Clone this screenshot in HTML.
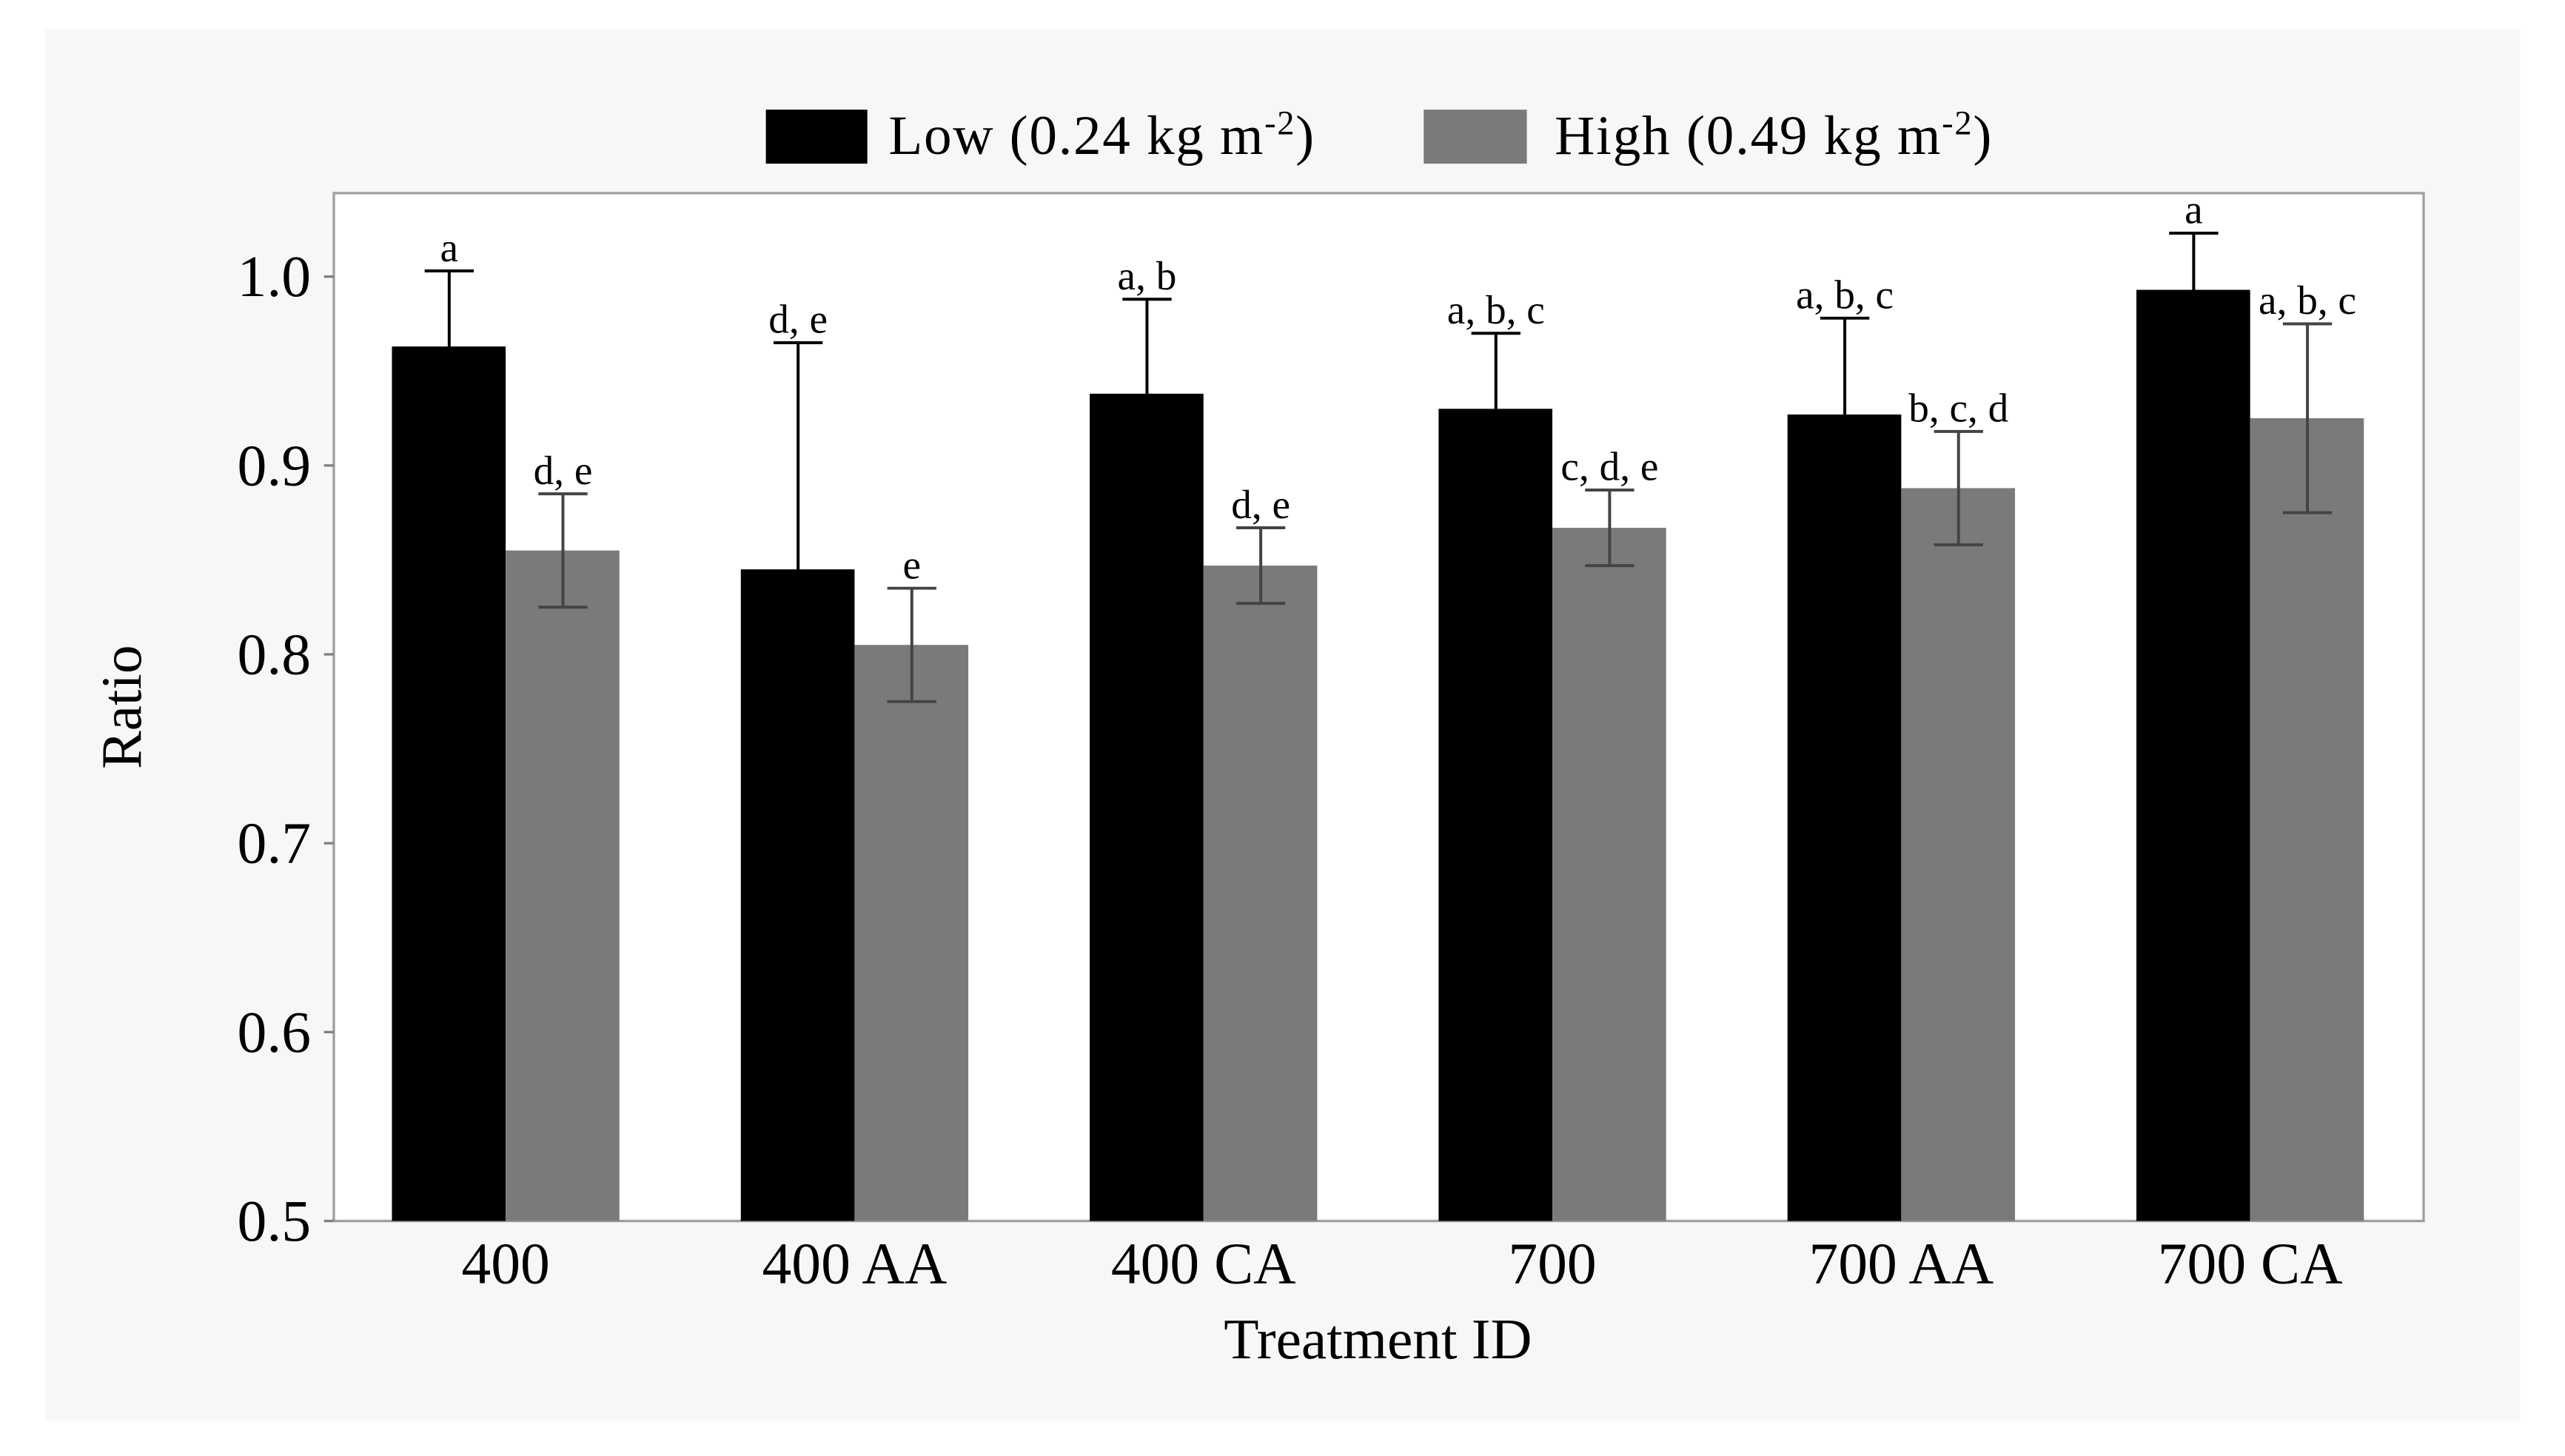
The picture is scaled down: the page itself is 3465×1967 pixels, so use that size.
<!DOCTYPE html>
<html><head><meta charset="utf-8"><style>
html,body{margin:0;padding:0;background:#fff;}
svg{display:block;font-family:"Liberation Serif",serif;}
</style></head><body>
<svg width="3465" height="1967" viewBox="0 0 1567.4 889.6" preserveAspectRatio="none" xmlns="http://www.w3.org/2000/svg">
<rect x="28" y="18" width="1512" height="850" fill="#f7f7f7"/>
<rect x="204" y="118" width="1277" height="628" fill="#fff" stroke="#a0a0a0" stroke-width="1.5"/>
<g id="legend">
<rect x="468" y="67" width="62" height="33" fill="#000"/>
<text x="543" y="94" font-size="34" textLength="260">Low (0.24 kg m<tspan dy="-12" font-size="21">-2</tspan><tspan dy="12">)</tspan></text>
<rect x="870" y="67" width="63" height="33" fill="#7a7a7a"/>
<text x="950" y="94" font-size="34" textLength="267">High (0.49 kg m<tspan dy="-12" font-size="21">-2</tspan><tspan dy="12">)</tspan></text>
</g>
<g id="axes"></g>
<g id="bars"></g>
<text x="86" y="432" font-size="35" text-anchor="middle" transform="rotate(-90 86 432)">Ratio</text>
<text x="842" y="830" font-size="35" text-anchor="middle">Treatment ID</text>
</svg>
<script>
const categories=["400","400 AA","400 CA","700","700 AA","700 CA"];
const lowValues=[0.963,0.845,0.938,0.930,0.927,0.993];
const lowErr=[0.040,0.120,0.050,0.040,0.051,0.030];
const highValues=[0.855,0.805,0.847,0.867,0.888,0.925];
const highErr=[0.030,0.030,0.020,0.020,0.030,0.050];
const lowLetters=["a","d, e","a, b","a, b, c","a, b, c","a"];
const highLetters=["d, e","e","d, e","c, d, e","b, c, d","a, b, c"];
const yTicks=[0.5,0.6,0.7,0.8,0.9,1.0];
const NS="http://www.w3.org/2000/svg";
const svg=document.querySelector('svg');
function y(v){return 746-(v-0.5)/0.5*577;}
function xc(i){return 309+i*213.2;}
function mk(tag,attrs,parent){const e=document.createElementNS(NS,tag);for(const k in attrs)e.setAttribute(k,attrs[k]);parent.appendChild(e);return e;}
const axes=document.getElementById('axes'),bars=document.getElementById('bars');
yTicks.forEach(t=>{
 const l=mk('line',{x1:198,x2:204,y1:y(t),y2:y(t),stroke:'#808080','stroke-width':1.5},axes);
 
 
 const tx=mk('text',{x:190,y:y(t)+12,'font-size':36,'text-anchor':'end'},axes);
 tx.textContent=t.toFixed(1);
 
 
});
categories.forEach((c,i)=>{
 const cx=xc(i);
 const tx=mk('text',{x:cx,y:784,'font-size':36,'text-anchor':'middle'},axes);
 tx.textContent=c;
 
 
 [[lowValues,lowErr,lowLetters,cx-69.5,'#000','#000','low'],[highValues,highErr,highLetters,cx,'#7a7a7a','#444','high']].forEach(([vals,errs,lets,x0,fill,ec,nm])=>{
  const v=vals[i],e=errs[i],mid=x0+35;
  const r=mk('rect',{x:x0,y:y(v),width:69.5,height:746-y(v),fill:fill},bars);
  
  
  const g=mk('g',{stroke:ec,'stroke-width':1.8},bars);
  
  
  mk('line',{x1:mid,x2:mid,y1:y(v+e),y2:y(v-e)},g);
  mk('line',{x1:mid-15,x2:mid+15,y1:y(v+e),y2:y(v+e)},g);
  mk('line',{x1:mid-15,x2:mid+15,y1:y(v-e),y2:y(v-e)},g);
  const lt=mk('text',{x:mid,y:y(v+e)-6,'font-size':25,'text-anchor':'middle'},bars);
  lt.textContent=lets[i];
  
  
 });
});
</script>
</body></html>
